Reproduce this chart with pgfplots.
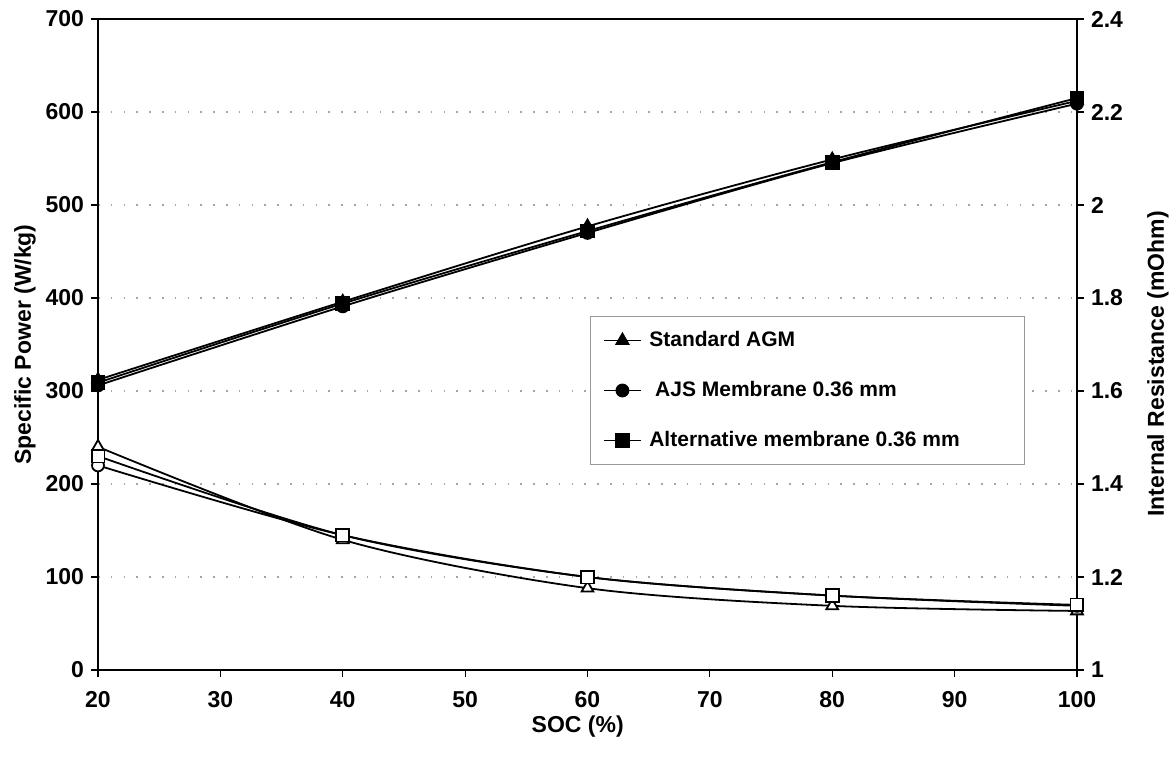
\documentclass[border=0pt]{standalone}
\usepackage{fontspec}
\setmainfont{Liberation Sans}
\usepackage{pgfplots}
\pgfplotsset{compat=1.18}

\pgfplotsset{
  socbase/.style={
    scale only axis, width=489.5pt, height=325.5pt,
    at={(0,0)}, anchor=south west,
    xmin=20, xmax=100,
    tick align=outside, major tick length=3.5pt,
    axis line style={line width=0.8pt},
    tick style={line width=0.6pt, black},
    ticklabel style={font=\fontsize{11.5}{13}\selectfont\bfseries},
    label style={font=\fontsize{11.5}{13}\selectfont\bfseries},
    /pgf/number format/assume math mode=true,
  },
  curve/.style={black, line width=0.9pt, smooth, tension=0.5, mark size=3pt},
}

\begin{document}
\begin{tikzpicture}
\useasboundingbox (-49pt,-43.5pt) rectangle (536.5pt,335pt);

% left axis: specific power
\begin{axis}[socbase,
  ymin=0, ymax=700, ytick={0,100,...,700},
  xtick={20,30,...,100},
  tick pos=left,
  xticklabel style={yshift=-3.5pt},
  ymajorgrids, grid style={gray!70, line width=0.6pt, dash pattern=on 0.8pt off 5.6pt},
  xlabel={SOC (\%)},
  xlabel style={at={(axis description cs:0.49,-0.087)}, anchor=center},
  ylabel={Specific Power (W/kg)},
  ylabel style={at={(axis description cs:-0.0746,0.5)}, anchor=center},
  legend style={at={(0.5026,0.5438)}, anchor=north west,
    draw=gray!80, line width=0.5pt, fill=white,
    inner xsep=6.5pt, inner ysep=7pt,
    row sep=15pt, column sep=4pt,
    nodes={inner sep=0pt, text height=8pt, text depth=2pt},
    font=\fontsize{10.5}{12}\selectfont\bfseries},
  legend cell align=left,
  legend image code/.code={\draw[mark repeat=2,mark phase=2,line width=0.9pt] plot coordinates {(0pt,0pt)(9pt,0pt)(18pt,0pt)};},
]
\addplot[curve, mark=triangle*, mark size=3.4pt] coordinates {(20,312) (40,396) (60,477) (80,549) (100,612)};
\addplot[curve, mark=*] coordinates {(20,306) (40,391) (60,470) (80,545) (100,609)};
\addplot[curve, mark=square*, mark size=3.2pt] coordinates {(20,309) (40,394) (60,472) (80,546) (100,615)};
\legend{\makebox[181pt][l]{Standard AGM},\makebox[181pt][l]{ AJS Membrane 0.36 mm},\makebox[181pt][l]{Alternative membrane 0.36 mm}}
\end{axis}

% right axis: internal resistance
\begin{axis}[socbase,
  axis x line=none, axis y line*=right,
  ymin=1, ymax=2.4, ytick={1,1.2,...,2.4},
  ylabel={Internal Resistance (mOhm)},
  ylabel style={at={(axis description cs:1.0827,0.47)}, anchor=center},
]
\addplot[curve, mark=triangle*, mark size=3.4pt, mark options={fill=white}] coordinates {(20,1.48) (40,1.28) (60,1.176) (80,1.138) (100,1.127)};
\addplot[curve, mark=*, mark options={fill=white}] coordinates {(20,1.44) (40,1.29) (60,1.20) (80,1.16) (100,1.138)};
\addplot[curve, mark=square*, mark size=3.2pt, mark options={fill=white}] coordinates {(20,1.46) (40,1.29) (60,1.20) (80,1.16) (100,1.14)};
\end{axis}
\end{tikzpicture}
\end{document}
